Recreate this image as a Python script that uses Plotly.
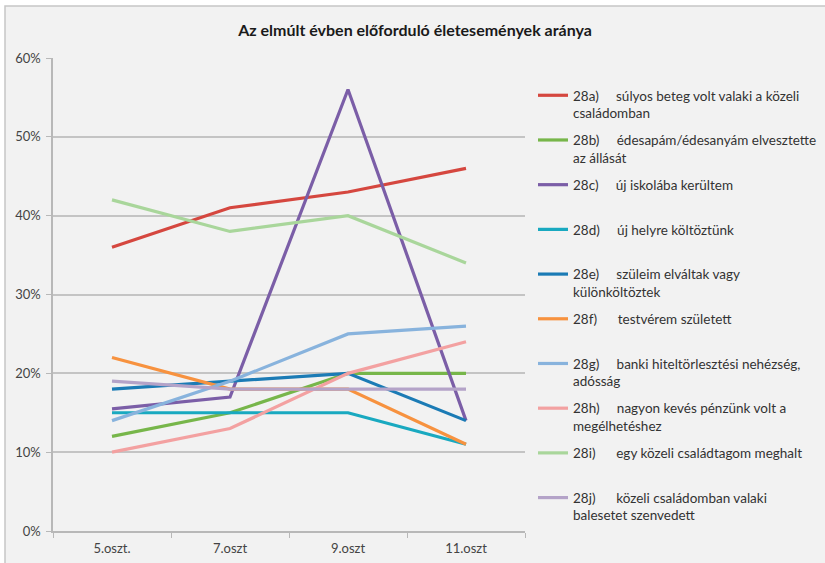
import plotly.graph_objects as go

# Survey waves (school grades)
grades = ["5.oszt.", "7.oszt", "9.oszt", "11.oszt"]

# Share of pupils reporting each life event in the past year (%)
sulyos_beteg = [36, 41, 43, 46]
allasvesztes = [12, 15, 20, 20]
uj_iskola = [15.5, 17, 56, 14]
koltozes = [15, 15, 15, 11]
valas = [18, 19, 20, 14]
testver = [22, 18, 18, 11]
hitel = [14, 19, 25, 26]
keves_penz = [10, 13, 20, 24]
halaleset = [42, 38, 40, 34]
baleset = [19, 18, 18, 18]

NB = "\u00a0"
labels = [
    f"28a){NB*5}súlyos beteg volt valaki a közeli<br>családomban",
    f"28b){NB*5}édesapám/édesanyám elvesztette<br>az állását",
    f"28c){NB*5}új iskolába kerültem<br>{NB}",
    f"28d){NB*5}új helyre költöztünk<br>{NB}",
    f"28e){NB*5}szüleim elváltak vagy<br>különköltöztek",
    f"28f){NB*6}testvérem született<br>{NB}",
    f"28g){NB*5}banki hiteltörlesztési nehézség,<br>adósság",
    f"28h){NB*5}nagyon kevés pénzünk volt a<br>megélhetéshez",
    f"28i){NB*6}egy közeli családtagom meghalt<br>{NB}",
    f"28j){NB*6}közeli családomban valaki<br>balesetet szenvedett",
]
series = [sulyos_beteg, allasvesztes, uj_iskola, koltozes, valas,
          testver, hitel, keves_penz, halaleset, baleset]
colors = ["#d5473f", "#77b64a", "#7b5ea7", "#19a9c0", "#1b7bb5",
          "#f7923f", "#88b3dd", "#f3a1a1", "#a9d69b", "#b4a3c8"]

fig = go.Figure()
for i, (name, vals, col) in enumerate(zip(labels, series, colors)):
    fig.add_trace(go.Scatter(
        x=grades, y=vals, name=name, mode="lines",
        line=dict(color=col, width=3.2),
        legendgroup=f"g{i}",
    ))

W, H = 825, 563
ml, mr, mt, mb = 53, 300, 58, 32
pw, ph = W - ml - mr, H - mt - mb

def px_x(p):
    return (p - ml) / pw

def px_y(p):
    return (H - mb - p) / ph

# chart frame
fig.add_shape(type="rect", xref="paper", yref="paper", layer="below",
              x0=px_x(5), x1=px_x(840), y0=px_y(580), y1=px_y(6),
              fillcolor="#f2f2f2", line=dict(color="#c6c6c6", width=1.5))

fig.update_layout(
    width=W, height=H,
    margin=dict(l=ml, r=mr, t=mt, b=mb, autoexpand=False),
    paper_bgcolor="white",
    plot_bgcolor="rgba(0,0,0,0)",
    font=dict(family="Lato, 'Open Sans', sans-serif", color="#333333"),
    title=dict(
        text="<b>Az elmúlt évben előforduló életesemények aránya</b>",
        xref="container", x=415 / W, xanchor="center",
        yref="container", y=1 - 30 / H, yanchor="middle",
        font=dict(size=16, color="#1a1a1a"),
    ),
    showlegend=True,
    legend=dict(
        x=px_x(533), xanchor="left",
        y=px_y(80), yanchor="top",
        bgcolor="rgba(0,0,0,0)",
        font=dict(size=13.5, color="#333333"),
        valign="top",
        tracegroupgap=6.6,
        itemwidth=30,
    ),
)

fig.update_xaxes(
    type="category", range=[-0.5, 3.5],
    showgrid=False, zeroline=False,
    showline=True, linecolor="#b8b8b8", linewidth=1.5,
    ticks="outside", tickson="boundaries", ticklen=5, tickcolor="#b8b8b8",
    tickfont=dict(size=13, color="#444444"),
    ticklabelstandoff=5,
)
fig.update_yaxes(
    range=[0, 60], dtick=10,
    ticksuffix="%",
    showgrid=True, gridcolor="#c4c4c4", gridwidth=1.5,
    zeroline=False,
    showline=True, linecolor="#b8b8b8", linewidth=1.5,
    ticks="outside", ticklen=5, tickcolor="#b8b8b8",
    tickfont=dict(size=13, color="#444444"),
    ticklabelstandoff=3,
)

fig.write_html("out.html")
